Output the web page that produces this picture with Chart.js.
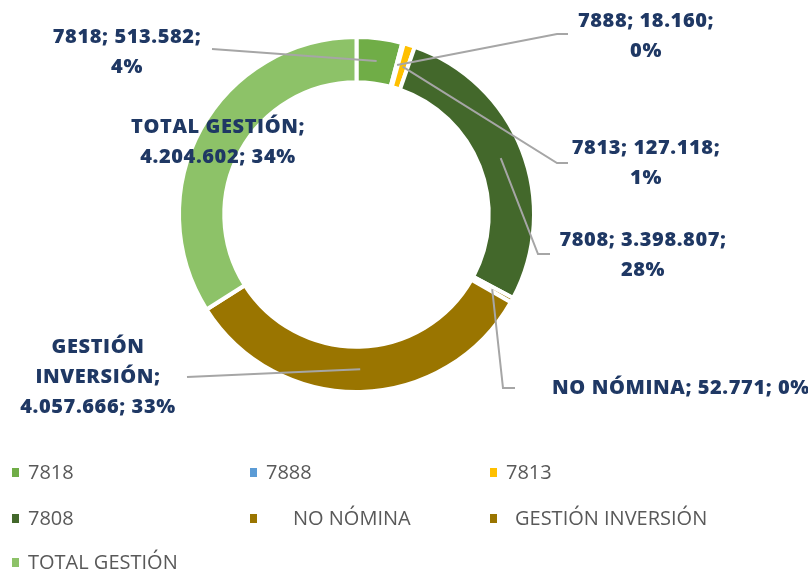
<!DOCTYPE html>
<html>
<head>
<meta charset="utf-8">
<script src="https://cdn.jsdelivr.net/npm/chart.js@4.4.1/dist/chart.umd.min.js"></script>
<style>
    html, body { margin: 0; padding: 0; background: #fff; }
    #wrap { width: 808px; height: 573px; position: relative; }
</style>
</head>
<body>
<div id="wrap"><canvas id="chart"></canvas></div>
<script>
// data
const categories = ['7818', '7888', '7813', '7808', 'NO NÓMINA', 'GESTIÓN INVERSIÓN', 'TOTAL GESTIÓN'];
const amounts = [513582, 18160, 127118, 3398807, 52771, 4057666, 4204602];
const percentLabels = ['4%', '0%', '1%', '28%', '0%', '33%', '34%'];
const sliceColors = ['#70AD47', '#5B9BD5', '#FFC000', '#43682B', '#9A7500', '#9A7500', '#8DC268'];

const labelColor = '#1F3864';
const leaderColor = '#A6A6A6';
const legendTextColor = '#595959';

const formatThousands = (n) => String(n).replace(/\B(?=(\d{3})+(?!\d))/g, '.');

// how each data label is broken into lines
const labelLines = (i) => {
    const name = categories[i];
    const value = formatThousands(amounts[i]);
    const pct = percentLabels[i];
    switch (name) {
        case 'NO NÓMINA': return [`${name}; ${value}; ${pct}`];
        case 'GESTIÓN INVERSIÓN': return ['GESTIÓN', 'INVERSIÓN;', `${value}; ${pct}`];
        case 'TOTAL GESTIÓN': return [`${name};`, `${value}; ${pct}`];
        default: return [`${name}; ${value};`, pct];
    }
};

// label placement (center x, first line y) and leader elbows
const labelPlacement = [
    { x: 127, y: 37, leader: [[212, 49]] },
    { x: 646, y: 21, leader: [[557, 34], [568, 34]] },
    { x: 646, y: 148, leader: [[557, 163], [568, 163]] },
    { x: 643, y: 240, leader: [[538, 254], [550, 254]] },
    { x: 681, y: 388, leader: [[503, 388], [515, 388]] },
    { x: 98, y: 347, leader: [[187, 377]] },
    { x: 218, y: 127, leader: null },
];

// legend grid
const legendColumns = [12, 250, 490];
const legendRows = [473, 519, 563];
const legendTextIndent = [0, 0, 0, 0, 27, 9, 0];

const labelsPlugin = {
    id: 'doughnutLabels',
    afterDatasetsDraw(chart) {
        const ctx = chart.ctx;
        const meta = chart.getDatasetMeta(0);

        ctx.save();
        ctx.strokeStyle = leaderColor;
        ctx.lineWidth = 2;
        meta.data.forEach((arc, i) => {
            const place = labelPlacement[i];
            if (!place.leader) return;
            const { x, y, startAngle, endAngle, innerRadius, outerRadius } = arc.getProps(
                ['x', 'y', 'startAngle', 'endAngle', 'innerRadius', 'outerRadius'], true);
            const mid = (startAngle + endAngle) / 2;
            const r = (innerRadius + outerRadius) / 2;
            ctx.beginPath();
            ctx.moveTo(x + Math.cos(mid) * r, y + Math.sin(mid) * r);
            place.leader.forEach(([px, py]) => ctx.lineTo(px, py));
            ctx.stroke();
        });
        ctx.restore();

        ctx.save();
        ctx.fillStyle = labelColor;
        ctx.font = '800 20px "Open Sans"';
        ctx.letterSpacing = '0.6px';
        ctx.textAlign = 'center';
        ctx.textBaseline = 'middle';
        categories.forEach((_, i) => {
            const place = labelPlacement[i];
            labelLines(i).forEach((line, k) => {
                ctx.fillText(line, place.x, place.y + k * 30);
            });
        });
        ctx.restore();

        // legend, three columns
        ctx.save();
        ctx.font = '20px "Open Sans"';
        ctx.textBaseline = 'middle';
        ctx.textAlign = 'left';
        categories.forEach((name, i) => {
            const cx = legendColumns[i % 3];
            const cy = legendRows[Math.floor(i / 3)];
            ctx.fillStyle = sliceColors[i];
            ctx.fillRect(cx, cy - 5, 7, 9);
            ctx.fillStyle = legendTextColor;
            ctx.fillText(name, cx + 16 + legendTextIndent[i], cy);
        });
        ctx.restore();
    }
};

new Chart(document.getElementById('chart'), {
    type: 'doughnut',
    data: {
        labels: categories,
        datasets: [{
            data: amounts,
            backgroundColor: sliceColors,
            borderColor: '#ffffff',
            borderWidth: 4,
        }]
    },
    options: {
        responsive: true,
        maintainAspectRatio: false,
        animation: false,
        radius: 177.5,
        cutout: '74.5%',
        layout: { padding: { left: 0, right: 95, top: 0, bottom: 144 } },
        plugins: {
            legend: { display: false },
            tooltip: { enabled: false },
        }
    },
    plugins: [labelsPlugin]
});
</script>
</body>
</html>
